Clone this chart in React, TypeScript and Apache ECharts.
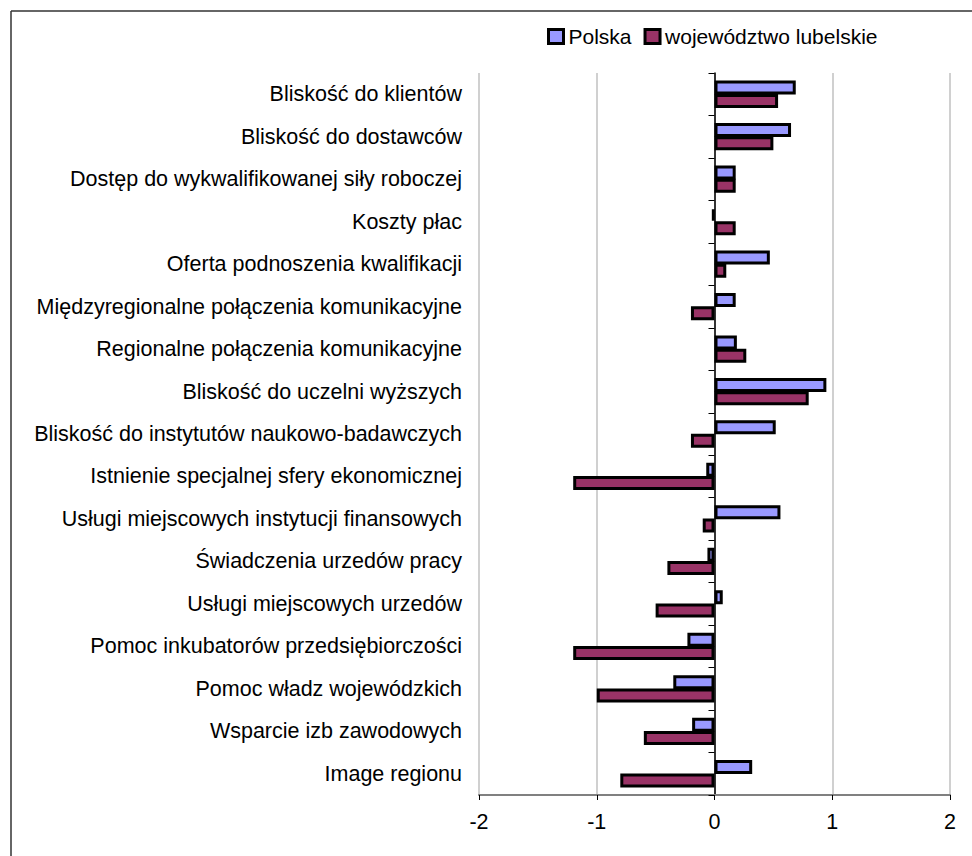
import React, { useEffect, useRef } from "react";
import * as echarts from "echarts";

const categories = [
  "Bliskość do klientów",
  "Bliskość do dostawców",
  "Dostęp do wykwalifikowanej siły roboczej",
  "Koszty płac",
  "Oferta podnoszenia kwalifikacji",
  "Międzyregionalne połączenia komunikacyjne",
  "Regionalne połączenia komunikacyjne",
  "Bliskość do uczelni wyższych",
  "Bliskość do instytutów naukowo-badawczych",
  "Istnienie specjalnej sfery ekonomicznej",
  "Usługi miejscowych instytucji finansowych",
  "Świadczenia urzedów pracy",
  "Usługi miejscowych urzedów",
  "Pomoc inkubatorów przedsiębiorczości",
  "Pomoc władz wojewódzkich",
  "Wsparcie izb zawodowych",
  "Image regionu",
];

const seriesNames = ["Polska", "województwo lubelskie"];

const polska = [0.69, 0.65, 0.18, -0.02, 0.47, 0.18, 0.19, 0.95, 0.52, -0.07, 0.56, -0.06, 0.07, -0.23, -0.35, -0.19, 0.32];
const lubelskie = [0.54, 0.5, 0.18, 0.18, 0.1, -0.2, 0.27, 0.8, -0.2, -1.2, -0.1, -0.4, -0.5, -1.2, -1.0, -0.6, -0.8];

const xMin = -2;
const xMax = 2;
const xInterval = 1;

const FONT = "'Liberation Sans', Arial, sans-serif";
const FS = 21.5;

export default function App() {
  const ref = useRef<HTMLDivElement>(null);
  useEffect(() => {
    document.body.style.margin = "0";
    if (!ref.current) return;
    const chart = echarts.init(ref.current, null, { renderer: "svg" });
    const barItem = (color: string) => ({
      color,
      borderColor: "#000",
      borderWidth: 3,
    });
    chart.setOption({
      animation: false,
      backgroundColor: "#fff",
      textStyle: { fontFamily: FONT, color: "#000" },
      legend: {
        data: seriesNames,
        left: 547,
        top: 26,
        padding: 0,
        itemWidth: 15,
        itemHeight: 14,
        itemGap: 12,
        icon: "rect",
        itemStyle: { borderColor: "#000", borderWidth: 3 },
        textStyle: { fontSize: 21, color: "#000", fontFamily: FONT },
      },
      grid: { left: 479, right: 22, top: 73, bottom: 61, containLabel: false },
      xAxis: {
        type: "value",
        min: xMin,
        max: xMax,
        interval: xInterval,
        axisLine: { show: true, onZero: false, lineStyle: { color: "#808080", width: 2 } },
        axisTick: { show: true, length: 5, lineStyle: { color: "#000", width: 1 } },
        axisLabel: { fontSize: FS, color: "#000", margin: 16, fontFamily: FONT },
        splitLine: { show: true, lineStyle: { color: "#c0c0c0", width: 1.5 } },
      },
      yAxis: [
        {
          type: "category",
          data: categories,
          inverse: true,
          position: "left",
          axisLine: { show: false, onZero: false },
          axisTick: { show: false },
          axisLabel: { fontSize: FS, color: "#000", margin: 17, fontFamily: FONT },
        },
        {
          type: "category",
          data: categories,
          inverse: true,
          position: "left",
          axisLine: { show: true, onZero: true, lineStyle: { color: "#000", width: 1.5 } },
          axisTick: { show: true, length: 6, lineStyle: { color: "#000", width: 1 } },
          axisLabel: { show: false },
          splitLine: { show: false },
        },
      ],
      series: [
        {
          name: seriesNames[0],
          type: "bar",
          data: polska,
          yAxisIndex: 0,
          barWidth: 14,
          barGap: "-5%",
          itemStyle: barItem("#9999FF"),
        },
        {
          name: seriesNames[1],
          type: "bar",
          data: lubelskie,
          yAxisIndex: 0,
          barWidth: 14,
          barGap: "-5%",
          itemStyle: barItem("#993366"),
        },
      ],
      graphic: [
        {
          type: "line",
          shape: { x1: 11, y1: 11, x2: 972, y2: 11 },
          style: { stroke: "#333", lineWidth: 1.5 },
        },
        {
          type: "line",
          shape: { x1: 11, y1: 11, x2: 11, y2: 856 },
          style: { stroke: "#333", lineWidth: 1.5 },
        },
      ],
    });
    return () => chart.dispose();
  }, []);
  return <div ref={ref} style={{ width: 972, height: 856 }} />;
}
